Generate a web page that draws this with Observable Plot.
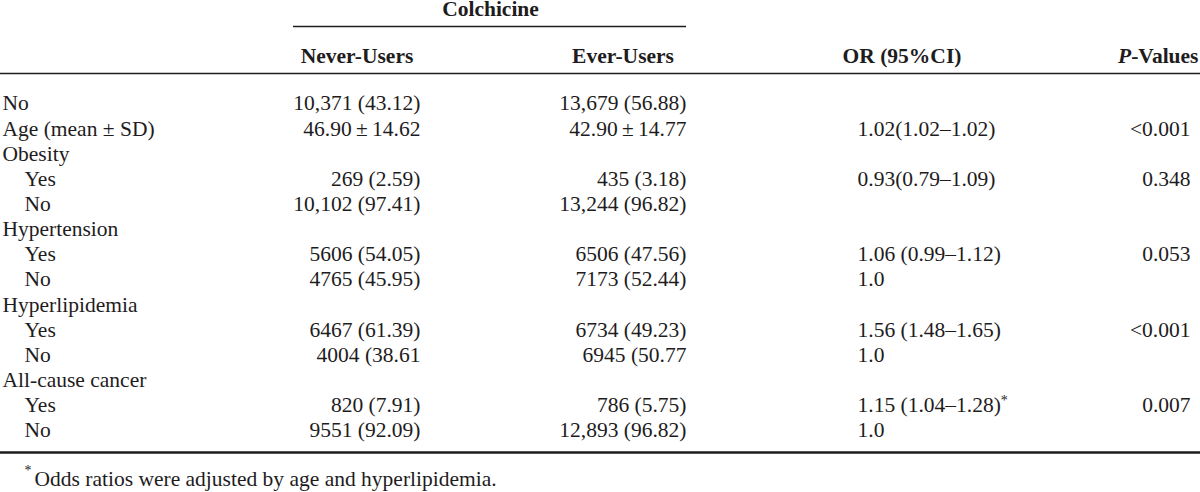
<!DOCTYPE html>
<html>
<head>
<meta charset="utf-8">
<script src="https://cdn.jsdelivr.net/npm/d3@7"></script>
<script src="https://cdn.jsdelivr.net/npm/@observablehq/plot@0.6"></script>
<style>
  html, body { margin: 0; padding: 0; background: #fff; }
  #chart svg { display: block; overflow: visible; }
</style>
</head>
<body>
<div id="chart"></div>
<script>
// ---- Data ----
const groupHeader = "Colchicine";
const columnHeaders = ["Never-Users", "Ever-Users", "OR (95%CI)", "P-Values"];
const rowLabels = ["No", "Age (mean ± SD)", "Obesity", "Yes", "No", "Hypertension", "Yes", "No",
  "Hyperlipidemia", "Yes", "No", "All-cause cancer", "Yes", "No"];
const rowIndent = [0, 0, 0, 1, 1, 0, 1, 1, 0, 1, 1, 0, 1, 1];
const neverUsers = ["10,371 (43.12)", "46.90\u2009±\u200914.62", "", "269 (2.59)", "10,102 (97.41)", "",
  "5606 (54.05)", "4765 (45.95)", "", "6467 (61.39)", "4004 (38.61", "", "820 (7.91)", "9551 (92.09)"];
const everUsers = ["13,679 (56.88)", "42.90\u2009±\u200914.77", "", "435 (3.18)", "13,244 (96.82)", "",
  "6506 (47.56)", "7173 (52.44)", "", "6734 (49.23)", "6945 (50.77", "", "786 (5.75)", "12,893 (96.82)"];
const oddsRatio = ["", "1.02(1.02\u20131.02)", "", "0.93(0.79\u20131.09)", "", "", "1.06 (0.99\u20131.12)", "1.0",
  "", "1.56 (1.48\u20131.65)", "1.0", "", "1.15 (1.04\u20131.28)", "1.0"];
const pValues = ["", "<0.001", "", "0.348", "", "", "0.053", "", "", "<0.001", "", "", "0.007", ""];
const footnote = "Odds ratios were adjusted by age and hyperlipidemia.";
const footnoteRow = 12; // row whose OR carries the asterisk

// ---- Layout (positions in px) ----
const W = 1200, H = 492;
const firstRowY = 103, lastRowY = 430;
const step = (lastRowY - firstRowY) / (rowLabels.length - 1);
const idx = px => (px - firstRowY) / step; // px -> row-index units of the y scale
const colX = {label: 2, indent: 24, never: 420, ever: 686, or: 857, p: 1190};
const hdrX = {never: 356.5, ever: 622.5, or: 901.5, p: 1198, group: 490};
const FS = 21.5;
const ink = "#1e1c1d";

const rows = rowLabels.map((label, i) => ({i, label, indent: rowIndent[i]}));
const cells = [];
rowLabels.forEach((_, i) => {
  if (neverUsers[i]) cells.push({i, col: "never", text: neverUsers[i]});
  if (everUsers[i]) cells.push({i, col: "ever", text: everUsers[i]});
  if (oddsRatio[i]) cells.push({i, col: "or", text: oddsRatio[i]});
  if (pValues[i]) cells.push({i, col: "p", text: pValues[i]});
});
const headers = [
  {col: "never", text: columnHeaders[0], anchor: "middle"},
  {col: "ever", text: columnHeaders[1], anchor: "middle"},
  {col: "or", text: columnHeaders[2], anchor: "middle"},
  {col: "p", text: columnHeaders[3], anchor: "end"}
];

const chart = Plot.plot({
  width: W,
  height: H,
  margin: 0,
  x: {type: "identity"},
  y: {type: "linear", domain: [0, rowLabels.length - 1], range: [firstRowY, lastRowY], axis: null},
  style: {fontFamily: "'Liberation Serif', 'Times New Roman', serif", background: "#fff", color: ink},
  marks: [
    // rules
    Plot.ruleY([idx(26)], {x1: 293, x2: colX.ever, stroke: ink, strokeWidth: 1.3}),
    Plot.ruleY([idx(73)], {x1: 0, x2: W, stroke: ink, strokeWidth: 1.3}),
    Plot.ruleY([idx(452)], {x1: 0, x2: W, stroke: ink, strokeWidth: 2.6}),
    // group header
    Plot.text([groupHeader], {x: () => hdrX.group, y: () => idx(9), text: d => d, fontWeight: "bold", fontSize: FS, fill: ink}),
    // column headers
    Plot.text(headers.filter(d => d.anchor === "middle"), {x: d => hdrX[d.col], y: () => idx(56), text: "text", textAnchor: "middle", fontWeight: "bold", fontSize: FS, fill: ink}),
    Plot.text(headers.filter(d => d.anchor === "end"), {x: d => hdrX[d.col], y: () => idx(56), text: "text", textAnchor: "end", fontWeight: "bold", fontSize: FS, fill: ink}),
    // row labels
    Plot.text(rows, {x: d => d.indent ? colX.indent : colX.label, y: "i", text: "label", textAnchor: "start", fontSize: FS, fill: ink}),
    // numeric cells (right aligned)
    Plot.text(cells.filter(d => d.col !== "or"), {x: d => colX[d.col], y: "i", text: "text", textAnchor: "end", fontSize: FS, fill: ink}),
    // OR cells (left aligned)
    Plot.text(cells.filter(d => d.col === "or"), {x: d => colX[d.col], y: "i", text: "text", textAnchor: "start", fontSize: FS, fill: ink}),
    // footnote
    Plot.text([footnote], {x: () => colX.indent, y: () => idx(475), text: d => d, textAnchor: "start", fontSize: FS, fill: ink})
  ]
});

// Rich text touches: italic P, superscript asterisks
const svg = d3.select(chart);
svg.selectAll("text").each(function() {
  const t = this.textContent;
  const sel = d3.select(this);
  if (t === columnHeaders[3]) {
    sel.text("");
    sel.append("tspan").attr("font-style", "italic").text("P");
    sel.append("tspan").text("-Values");
  } else if (t === oddsRatio[footnoteRow]) {
    sel.append("tspan").attr("dy", "-0.5em").attr("font-size", 14).text("*");
  } else if (t === footnote) {
    sel.text("");
    sel.append("tspan").attr("dy", "-0.5em").attr("font-size", 14).text("*");
    sel.append("tspan").attr("dy", "0.5em").attr("dx", 3).text(footnote);
  }
});

document.getElementById("chart").appendChild(chart);
</script>
</body>
</html>
